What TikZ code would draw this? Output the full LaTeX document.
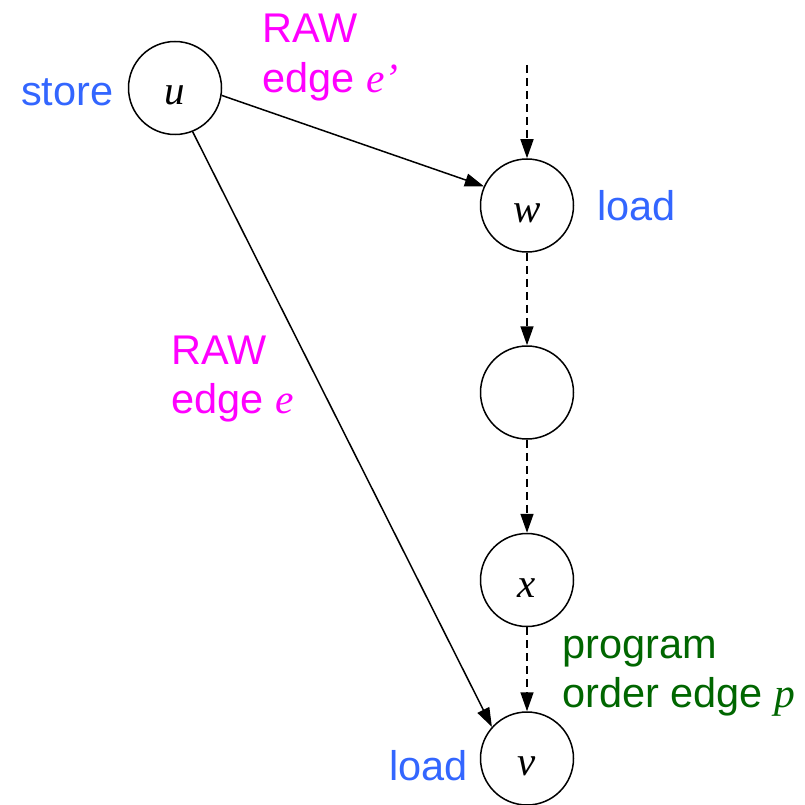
\documentclass[tikz,border=0pt]{standalone}
\usepackage{fontspec}
\setmainfont{Liberation Sans}
\newfontfamily\varfont{Liberation Serif}
\usetikzlibrary{arrows.meta}
\definecolor{kindblue}{RGB}{51,102,255}
\definecolor{rawmag}{RGB}{255,0,255}
\definecolor{pogreen}{RGB}{0,102,0}
\newcommand{\mvar}[1]{{\varfont\itshape #1}}

\begin{document}
\begin{tikzpicture}[x=1pt,y=-1pt,
  op/.style={circle,draw,line width=1.5pt,minimum size=93pt,inner sep=0pt,
    text height=34pt,text depth=0pt,font=\fontsize{41}{48}\selectfont\varfont\itshape},
  lbl/.style={anchor=base west,inner sep=0pt,font=\fontsize{41.5}{48}\selectfont},
  dep/.style={line width=1.5pt,-{Triangle[length=19pt,width=13pt]}},
  po/.style={dep,dash pattern=on 8pt off 5pt}]
\useasboundingbox (0,0) rectangle (805,805);

% operations
\node[op] (u) at (175,88) {u};
\node[op] (w) at (527,205.5) {w};
\node[op] (m) at (527,392.5) {};
\node[op] (x) at (527,580) {x};
\node[op] (v) at (527,758.5) {v};
\coordinate (top) at (527,65);

% RAW dependences
\draw[dep] (u.-9) -- (w.156);
\draw[dep] (u.292) -- (v.138);

% program order chain
\draw[po] (top) -- (w.north);
\draw[po] (w.south) -- (m.north);
\draw[po] (m.south) -- (x.north);
\draw[po] (x.south) -- (v.north);

% labels
\node[lbl,text=kindblue] (ustore) at (21,106) {store};
\node[lbl,text=kindblue] (wload) at (597,220) {load};
\node[lbl,text=kindblue] (vload) at (389,780) {load};
\node[lbl,text=rawmag] (rawa1) at (262,43) {RAW};
\node[lbl,text=rawmag] (rawa2) at (262,93) {edge \mvar{e’}};
\node[lbl,text=rawmag] (rawb1) at (171,364) {RAW};
\node[lbl,text=rawmag] (rawb2) at (171,413) {edge \mvar{e}};
\node[lbl,text=pogreen] (poa) at (562,658) {program};
\node[lbl,text=pogreen] (pob) at (562,707) {order edge \mvar{p}};
\end{tikzpicture}
\end{document}
